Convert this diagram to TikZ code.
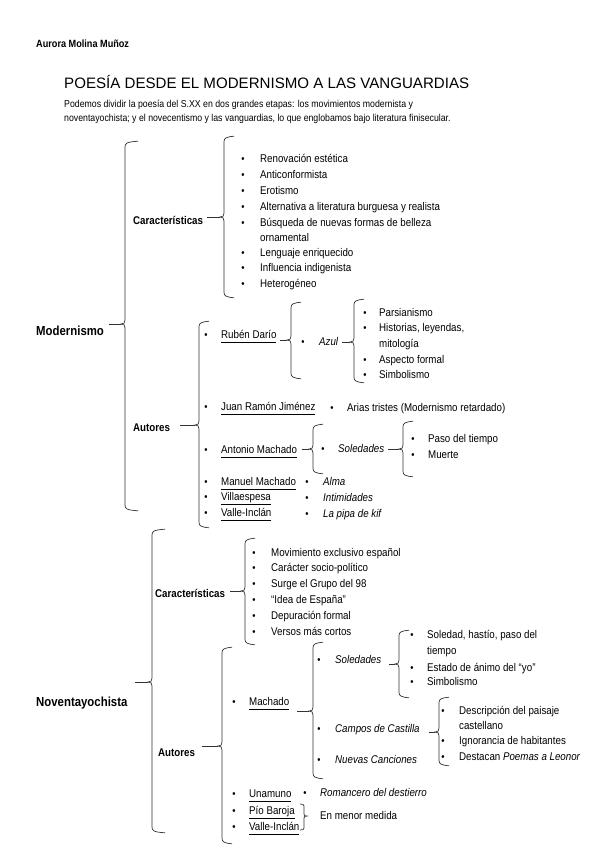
\documentclass[tikz,border=0pt]{standalone}
\usepackage{fontspec}
\setmainfont[FakeStretch=0.87]{Liberation Sans}
\newfontfamily\titlefont{Liberation Sans}
\newcommand{\ulx}[1]{\underline{\smash{#1}\rule[-1.6pt]{0pt}{1pt}}}
% left brace: x, top, tip, bottom, hook width, tip name
\newcommand{\wbr}[6]{%
  \coordinate (#6) at ({#1-4},#3);
  \draw[brc] ({#1+#5},{#2-0.8}) .. controls ({#1+2},#2) and (#1,{#2+1}) .. (#1,{#2+5})
    -- (#1,{#3-4}) .. controls (#1,{#3-1}) and ({#1-1},#3) .. (#6)
    .. controls ({#1-1},#3) and (#1,{#3+1}) .. (#1,{#3+4})
    -- (#1,{#4-5}) .. controls (#1,{#4-1}) and ({#1+2},#4) .. ({#1+#5},{#4+0.8});
}
% right bracket: x, top, tip, bottom, hook width, tip name
\newcommand{\wrbr}[6]{%
  \coordinate (#6) at ({#1+3},#3);
  \draw[brc] ({#1-#5},#2) .. controls ({#1-1},#2) and (#1,{#2+0.5}) .. (#1,{#2+2})
    -- (#1,{#3-2}) .. controls (#1,{#3-0.5}) and ({#1+1},#3) .. (#6)
    .. controls ({#1+1},#3) and (#1,{#3+0.5}) .. (#1,{#3+2})
    -- (#1,{#4-2}) .. controls (#1,{#4-0.5}) and ({#1-1},#4) .. ({#1-#5},#4);
}
% bullet item: name, bullet x, text x, centre y, text
\newcommand{\itm}[5]{%
  \node[bul] (#1b) at (#2,{#4+3.8}) {•};
  \node[itm] (#1) at (#3,{#4+3.8}) {#5};
}
\begin{document}
\begin{tikzpicture}[x=1pt,y=-1pt,
  itm/.style={anchor=base west, inner sep=0pt, font=\fontsize{11.2}{13}\selectfont},
  bul/.style={anchor=base, inner sep=0pt, font=\fontsize{10.5}{12}\selectfont},
  lab/.style={anchor=base west, inner sep=0pt, font=\fontsize{11.2}{13}\selectfont\bfseries},
  biglab/.style={anchor=base west, inner sep=0pt, font=\fontsize{13.1}{15}\selectfont\bfseries},
  intro/.style={anchor=base west, inner sep=0pt, font=\fontsize{10.05}{12}\selectfont},
  brc/.style={line width=0.7pt, draw=black!80},
  conn/.style={line width=0.7pt, draw=black!80}]
\useasboundingbox[fill=white] (0,0) rectangle (599,848);

% header
\node[anchor=base west, inner sep=0pt, font=\fontsize{10.5}{12}\selectfont\bfseries] (auth) at (36,47.5) {Aurora Molina Muñoz};
\node[anchor=base west, inner sep=0pt, font=\titlefont\fontsize{15.1}{18}\selectfont] (title) at (64,89) {POESÍA DESDE EL MODERNISMO A LAS VANGUARDIAS};
\node[intro] (intro1) at (64,107.5) {Podemos dividir la poesía del S.XX en dos grandes etapas: los movimientos modernista y};
\node[intro] (intro2) at (64,121.5) {noventayochista; y el novecentismo y las vanguardias, lo que englobamos bajo literatura finisecular.};

% ===== Modernismo =====
\node[biglab] (modl) at (36,335) {Modernismo};
\wbr{125}{142}{324}{510}{13}{modt}
\draw[conn] ([xshift=5pt]modl.east |- modt) -- (modt);

\node[lab] (car1l) at (133,224) {Características};
\wbr{224}{137}{217}{297}{10}{car1t}
\draw[conn] ([xshift=4pt]car1l.east |- car1t) -- (car1t);

\itm{c1a}{243}{260}{159}{Renovación estética}
\itm{c1b}{243}{260}{175}{Anticonformista}
\itm{c1c}{243}{260}{191}{Erotismo}
\itm{c1d}{243}{260}{207}{Alternativa a literatura burguesa y realista}
\itm{c1e}{243}{260}{223}{Búsqueda de nuevas formas de belleza}
\node[itm] (c1e2) at (260,241.3) {ornamental};
\itm{c1f}{243}{260}{253}{Lenguaje enriquecido}
\itm{c1g}{243}{260}{268}{Influencia indigenista}
\itm{c1h}{243}{260}{284}{Heterogéneo}

\node[lab] (aut1l) at (133,431) {Autores};
\wbr{199}{322}{425}{527}{10}{aut1t}
\draw[conn] ([xshift=10pt]aut1l.east |- aut1t) -- (aut1t);

\itm{rd}{206}{221}{335}{\ulx{Rubén Darío}}
\itm{jrj}{206}{221}{407}{\ulx{Juan Ramón Jiménez}}
\itm{am}{206}{221}{450}{\ulx{Antonio Machado}}
\itm{mm}{206}{221}{482}{\ulx{Manuel Machado}}
\itm{vil}{206}{221}{497}{\ulx{Villaespesa}}
\itm{vi1}{206}{221}{513}{\ulx{Valle-Inclán}}

\wbr{291}{303}{340}{378}{10}{rdt}
\draw[conn] ([xshift=3pt]rd.east |- rdt) -- (rdt);
\itm{azul}{303}{319}{342}{\textit{Azul}}
\wbr{354}{300}{342}{382}{10}{azt}
\draw[conn] ([xshift=3pt]azul.east |- azt) -- (azt);
\itm{az1}{365}{379}{313}{Parsianismo}
\itm{az2}{365}{379}{328}{Historias, leyendas,}
\node[itm] (az2b2) at (379,347.8) {mitología};
\itm{az3}{365}{379}{360}{Aspecto formal}
\itm{az4}{365}{379}{375}{Simbolismo}

\itm{arias}{332}{347}{408}{Arias tristes (Modernismo retardado)}

\wbr{313}{425}{449}{473}{10}{amt}
\draw[conn] ([xshift=5pt]am.east |- amt) -- (amt);
\itm{sol1}{323}{338}{449}{\textit{Soledades}}
\wbr{403}{422}{449}{476}{10}{sol1t}
\draw[conn] ([xshift=4pt]sol1.east |- sol1t) -- (sol1t);
\itm{s1a}{413}{428}{439}{Paso del tiempo}
\itm{s1b}{413}{428}{455}{Muerte}

\itm{alma}{307}{323}{482}{\textit{Alma}}
\itm{intim}{307}{323}{498}{\textit{Intimidades}}
\itm{pipa}{307}{323}{514}{\textit{La pipa de kif}}

% ===== Noventayochista =====
\node[biglab] (novl) at (36,706) {Noventayochista};
\wbr{152}{530}{682}{832}{13}{novt}
\draw[conn] ([xshift=7pt]novl.east |- novt) -- (novt);

\node[lab] (car2l) at (155,597) {Características};
\wbr{245}{539}{591}{644}{10}{car2t}
\draw[conn] ([xshift=5pt]car2l.east |- car2t) -- (car2t);
\itm{c2a}{254}{271}{553}{Movimiento exclusivo español}
\itm{c2b}{254}{271}{568}{Carácter socio-político}
\itm{c2c}{254}{271}{584}{Surge el Grupo del 98}
\itm{c2d}{254}{271}{600}{“Idea de España”}
\itm{c2e}{254}{271}{616}{Depuración formal}
\itm{c2f}{254}{271}{632}{Versos más cortos}

\node[lab] (aut2l) at (158,756) {Autores};
\wbr{222}{648}{746}{843}{10}{aut2t}
\draw[conn] ([xshift=7pt]aut2l.east |- aut2t) -- (aut2t);
\itm{mach}{234}{249}{702}{\ulx{Machado}}
\itm{una}{234}{249}{794}{\ulx{Unamuno}}
\itm{pio}{234}{249}{811}{\ulx{Pío Baroja}}
\itm{vi2}{234}{249}{827}{\ulx{Valle-Inclán}}

\wbr{313}{643}{711}{778}{10}{macht}
\draw[conn] ([xshift=8pt]mach.east |- macht) -- (macht);
\itm{sol2}{319}{335}{660}{\textit{Soledades}}
\itm{campos}{319}{335}{729}{\textit{Campos de Castilla}}
\itm{nuevas}{319}{335}{760}{\textit{Nuevas Canciones}}

\wbr{399}{631}{664}{697}{10}{sol2t}
\draw[conn] ([xshift=8pt]sol2.east |- sol2t) -- (sol2t);
\itm{s2a}{412}{427}{635}{Soledad, hastío, paso del}
\node[itm] (s2a2) at (427,654.8) {tiempo};
\itm{s2b}{412}{427}{668}{Estado de ánimo del “yo”}
\itm{s2c}{412}{427}{682}{Simbolismo}

\wbr{439}{698}{732}{765}{10}{camt}
\draw[conn] ([xshift=9pt]campos.east |- camt) -- (camt);
\itm{ca1}{443}{459}{711}{Descripción del paisaje}
\node[itm] (ca12) at (459,729.8) {castellano};
\itm{ca2}{443}{459}{741}{Ignorancia de habitantes}
\itm{ca3}{443}{459}{757}{Destacan \textit{Poemas a Leonor}}

\itm{rom}{305}{320}{793}{\textit{Romancero del destierro}}
\wrbr{304}{804}{816}{830}{4}{pbt}
\node[itm] (menor) at (320,819.8) {En menor medida};
\end{tikzpicture}
\end{document}
